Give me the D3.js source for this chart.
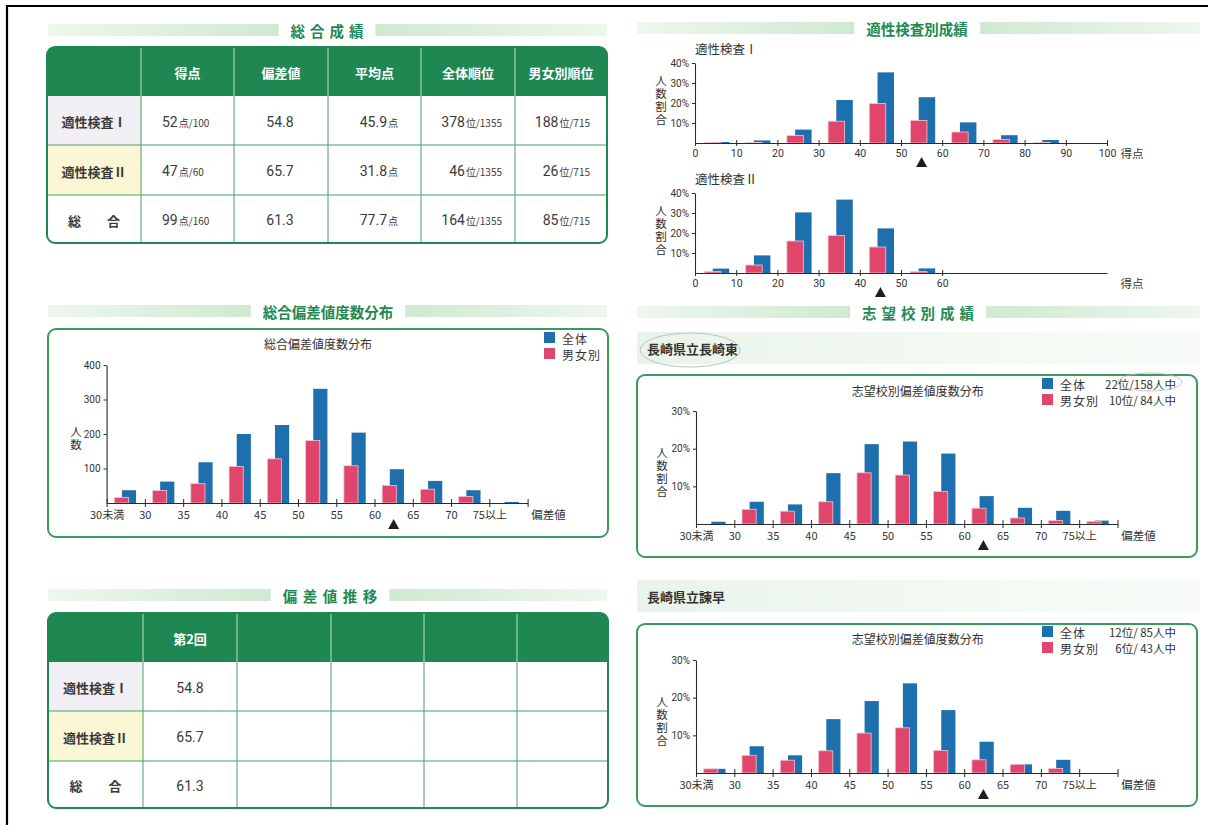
<!DOCTYPE html>
<html><head><meta charset="utf-8">
<script src="https://cdn.jsdelivr.net/npm/d3@7"></script>
<style>html,body{margin:0;padding:0;background:#fff;}svg{display:block}</style>
</head><body><svg id="c" width="1208" height="825"></svg>
<script>
// ---------------- DATA ----------------
const sectionTitles = ["総合成績", "適性検査別成績", "総合偏差値度数分布", "志望校別成績", "偏差値推移"];

const summaryHeaders = ["得点", "偏差値", "平均点", "全体順位", "男女別順位"];
const rowLabels = ["適性検査Ⅰ", "適性検査Ⅱ", "総　　合"];
const summaryValues = [
  [["52", "点/100"], ["54.8", ""], ["45.9", "点"], ["378", "位/1355"], ["188", "位/715"]],
  [["47", "点/60"], ["65.7", ""], ["31.8", "点"], ["46", "位/1355"], ["26", "位/715"]],
  [["99", "点/160"], ["61.3", ""], ["77.7", "点"], ["164", "位/1355"], ["85", "位/715"]]
];

const trendHeaders = ["第2回", "", "", "", ""];
const trendValues = [
  [["54.8", ""], ["", ""], ["", ""], ["", ""], ["", ""]],
  [["65.7", ""], ["", ""], ["", ""], ["", ""], ["", ""]],
  [["61.3", ""], ["", ""], ["", ""], ["", ""], ["", ""]]
];

const legendNames = ["全体", "男女別"];

const test1Label = "適性検査Ⅰ";
const test1Bins = [0, 10, 20, 30, 40, 50, 60, 70, 80, 90];
const test1All = [0.5, 1.3, 6.7, 21.5, 35.3, 22.9, 10.3, 3.9, 1.5, 0];
const test1Gender = [0.2, 0.3, 3.7, 10.9, 19.7, 11.3, 5.5, 1.7, 0.3, 0];
const test1Ticks = [0, 10, 20, 30, 40, 50, 60, 70, 80, 90, 100];
const test1Score = 52;

const test2Label = "適性検査Ⅱ";
const test2Bins = [0, 10, 20, 30, 40, 50];
const test2All = [2.2, 8.8, 30.3, 36.7, 22.3, 2.3];
const test2Gender = [0.7, 4.0, 16.0, 18.7, 13.0, 0.7];
const test2Ticks = [0, 10, 20, 30, 40, 50, 60];
const test2Score = 47;

const pctTicks = [10, 20, 30, 40];
const schoolPctTicks = [10, 20, 30];
const countTicks = [100, 200, 300, 400];

const devCats = ["30未満", "30", "35", "40", "45", "50", "55", "60", "65", "70", "75以上"];
const devAll = [37, 62, 118, 200, 226, 331, 204, 98, 64, 37, 3];
const devGender = [16, 36, 56, 106, 128, 181, 108, 51, 40, 19, 0];
const totalDeviation = 61.3;

const school1Name = "長崎県立長崎東";
const school1Rank = ["22位/158人中", "10位/ 84人中"];
const school1All = [0.6, 5.9, 5.2, 13.5, 21.2, 21.9, 18.7, 7.4, 4.3, 3.5, 0.9];
const school1Gender = [0, 3.9, 3.4, 5.9, 13.6, 13.0, 8.6, 4.2, 1.6, 0.9, 0.7];

const school2Name = "長崎県立諫早";
const school2Rank = ["12位/ 85人中", "6位/ 43人中"];
const school2All = [1.1, 7.1, 4.7, 14.3, 19.1, 23.8, 16.7, 8.3, 2.3, 3.5, 0];
const school2Gender = [1.1, 4.7, 3.4, 5.9, 10.6, 12.0, 6.0, 3.5, 2.3, 1.2, 0];

const chartTitleDev = "総合偏差値度数分布";
const chartTitleSchool = "志望校別偏差値度数分布";

// ---------------- STYLE ----------------
const JP = "'Noto Sans CJK JP','Noto Sans',sans-serif";
const NUM = "'Roboto','Liberation Sans','Noto Sans CJK JP',sans-serif";
const GREEN = "#1f8751";
const LINE_GREEN = "#4c9f69";
const BOX_GREEN = "#3c9a5d";
const BLUE = "#1d6fad";
const RED = "#e0466b";
const INK = "#333";

const svg = d3.select("#c");
const defs = svg.append("defs");

function grad(id, rev) {
  const g = defs.append("linearGradient").attr("id", id).attr("x1", 0).attr("x2", 1).attr("y1", 0).attr("y2", 0);
  g.append("stop").attr("offset", 0).attr("stop-color", "#cde8cf").attr("stop-opacity", rev ? 0.95 : 0.35);
  g.append("stop").attr("offset", 1).attr("stop-color", "#cde8cf").attr("stop-opacity", rev ? 0.35 : 0.95);
}
grad("bandL", false); grad("bandR", true);
const sg = defs.append("linearGradient").attr("id", "bandS").attr("x1", 0).attr("x2", 1);
sg.append("stop").attr("offset", 0).attr("stop-color", "#e6f3e6").attr("stop-opacity", 0.9);
sg.append("stop").attr("offset", 1).attr("stop-color", "#eef7ee").attr("stop-opacity", 0.4);

// page border
svg.append("line").attr("x1", 6).attr("x2", 1208).attr("y1", 6).attr("y2", 6).attr("stroke", "#000").attr("stroke-width", 2.2);
svg.append("line").attr("x1", 7).attr("x2", 7).attr("y1", 5).attr("y2", 825).attr("stroke", "#000").attr("stroke-width", 2.2);

function sectionTitle(text, cx, cy, x0, x1, ls) {
  const t = svg.append("text").attr("x", cx + ls / 2).attr("y", cy).attr("text-anchor", "middle")
    .attr("dominant-baseline", "central").attr("font-family", JP).attr("font-weight", "bold")
    .attr("font-size", 14.5).attr("letter-spacing", ls).attr("fill", "#21894f").text(text);
  const bb = t.node().getBBox();
  svg.append("rect").attr("x", x0).attr("y", cy - 6).attr("width", Math.max(0, bb.x - 12 - x0)).attr("height", 12).attr("fill", "url(#bandL)");
  const rx = bb.x + bb.width - ls + 12;
  svg.append("rect").attr("x", rx).attr("y", cy - 6).attr("width", Math.max(0, x1 - rx)).attr("height", 12).attr("fill", "url(#bandR)");
}

sectionTitle(sectionTitles[0], 327, 30, 48, 607, 5);
sectionTitle(sectionTitles[1], 917, 28, 637, 1200, 0);
sectionTitle(sectionTitles[2], 328, 311, 48, 607, 0);
sectionTitle(sectionTitles[3], 918, 312, 637, 1200, 5);
sectionTitle(sectionTitles[4], 330, 595, 48, 607, 5.5);

// ---------------- TABLES ----------------
let clipN = 0;
function table(cfg) {
  const { cols, rows, headers, labels, values, fills, anchors } = cfg;
  const X0 = cols[0], X1 = cols[cols.length - 1], Y0 = rows[0], Y1 = rows[rows.length - 1];
  const id = "clip" + (clipN++);
  defs.append("clipPath").attr("id", id).append("rect")
    .attr("x", X0).attr("y", Y0).attr("width", X1 - X0).attr("height", Y1 - Y0).attr("rx", 8);
  const g = svg.append("g");
  const gc = g.append("g").attr("clip-path", `url(#${id})`);
  gc.append("rect").attr("x", X0).attr("y", Y0).attr("width", X1 - X0).attr("height", Y1 - Y0).attr("fill", "#fff");
  gc.append("rect").attr("x", X0).attr("y", Y0).attr("width", X1 - X0).attr("height", rows[1] - Y0).attr("fill", GREEN);
  fills.forEach((f, i) => {
    gc.append("rect").attr("x", X0).attr("y", rows[i + 1]).attr("width", cols[1] - X0)
      .attr("height", rows[i + 2] - rows[i + 1]).attr("fill", f);
  });
  cols.slice(1, -1).forEach(x => {
    gc.append("line").attr("x1", x).attr("x2", x).attr("y1", Y0).attr("y2", rows[1]).attr("stroke", "#bfe0cb").attr("stroke-width", 1);
    gc.append("line").attr("x1", x).attr("x2", x).attr("y1", rows[1]).attr("y2", Y1).attr("stroke", LINE_GREEN).attr("stroke-width", 1);
  });
  rows.slice(2, -1).forEach(y => {
    gc.append("line").attr("x1", X0).attr("x2", X1).attr("y1", y).attr("y2", y).attr("stroke", LINE_GREEN).attr("stroke-width", 1);
  });
  g.append("rect").attr("x", X0).attr("y", Y0).attr("width", X1 - X0).attr("height", Y1 - Y0).attr("rx", 8)
    .attr("fill", "none").attr("stroke", GREEN).attr("stroke-width", 2);
  headers.forEach((h, i) => {
    g.append("text").attr("x", (cols[i + 1] + cols[i + 2]) / 2).attr("y", (rows[0] + rows[1]) / 2 + 1)
      .attr("text-anchor", "middle").attr("dominant-baseline", "central")
      .attr("font-family", JP).attr("font-weight", "bold").attr("font-size", 13).attr("fill", "#fff").text(h);
  });
  labels.forEach((l, r) => {
    g.append("text").attr("x", (cols[0] + cols[1]) / 2).attr("y", (rows[r + 1] + rows[r + 2]) / 2 + 1)
      .attr("text-anchor", "middle").attr("dominant-baseline", "central")
      .attr("font-family", JP).attr("font-weight", "bold").attr("font-size", 13).attr("fill", "#3a3a3a").text(l);
  });
  values.forEach((row, r) => {
    row.forEach((v, c) => {
      if (!v[0]) return;
      const a = anchors[c];
      const xa = a.a === "start" ? cols[c + 1] + a.dx : a.a === "end" ? cols[c + 2] - a.dx : (cols[c + 1] + cols[c + 2]) / 2 + a.dx;
      const t = g.append("text").attr("x", xa).attr("y", (rows[r + 1] + rows[r + 2]) / 2 + 1)
        .attr("text-anchor", a.a).attr("dominant-baseline", "central").attr("fill", "#3a3a3a");
      t.append("tspan").attr("font-family", NUM).attr("font-size", 14).text(v[0]);
      if (v[1]) t.append("tspan").attr("font-family", JP).attr("font-size", 10).attr("dx", 1).text(v[1]);
    });
  });
}

table({
  cols: [47, 141, 234, 328, 421, 515, 607],
  rows: [47, 96, 145, 195, 243],
  headers: summaryHeaders, labels: rowLabels, values: summaryValues,
  fills: ["#f2eff4", "#fbf7d4", "#ffffff"],
  anchors: [{ a: "start", dx: 21 }, { a: "middle", dx: -1 }, { a: "end", dx: 23 }, { a: "end", dx: 13 }, { a: "end", dx: 17 }]
});
table({
  cols: [48, 143, 237, 331, 424, 517, 608],
  rows: [613, 662, 711, 761, 808],
  headers: trendHeaders, labels: rowLabels, values: trendValues,
  fills: ["#f2eff4", "#fbf7d4", "#ffffff"],
  anchors: [{ a: "middle", dx: 0 }, { a: "middle", dx: 0 }, { a: "middle", dx: 0 }, { a: "middle", dx: 0 }, { a: "middle", dx: 0 }]
});

// ---------------- CHART HELPERS ----------------
function vertLabel(text, x, yc) {
  svg.append("text").attr("x", x).attr("y", yc)
    .attr("writing-mode", "vertical-rl").attr("text-anchor", "middle")
    .attr("font-family", JP).attr("font-size", 11.5).attr("letter-spacing", 1.5).attr("fill", INK).text(text);
}

function styleAxis(ax) {
  ax.select(".domain").attr("stroke", "#2a2a2a").attr("stroke-width", 1.1);
  ax.selectAll(".tick line").attr("stroke", "#2a2a2a").attr("stroke-width", 1);
  ax.selectAll(".tick text").attr("font-family", NUM).attr("font-size", 10.5).attr("fill", INK);
}

function triangle(cx, cy) {
  svg.append("path").attr("d", `M${cx},${cy - 5} L${cx + 5.5},${cy + 5} L${cx - 5.5},${cy + 5} Z`).attr("fill", "#1e1e1e");
}

function bars(g, x, y, starts, width, all, gender, offR, offB, w) {
  g.selectAll(".b").data(all).join("rect").attr("class", "b")
    .attr("x", (d, i) => x(starts[i] + offB * width)).attr("width", (d, i) => x(starts[i] + (offB + w) * width) - x(starts[i] + offB * width))
    .attr("y", d => y(d)).attr("height", d => y(0) - y(d)).attr("fill", BLUE);
  g.selectAll(".r").data(gender).join("rect").attr("class", "r")
    .attr("x", (d, i) => x(starts[i] + offR * width)).attr("width", (d, i) => x(starts[i] + (offR + w) * width) - x(starts[i] + offR * width))
    .attr("y", d => y(d)).attr("height", d => y(0) - y(d)).attr("fill", RED)
    .attr("stroke", d => d > 0 ? "#f6c3cf" : "none").attr("stroke-width", 0.8);
}

// ---------------- TEST CHARTS ----------------
function testChart(label, bins, all, gender, ticks, score, yBottom) {
  const x = d3.scaleLinear().domain([0, 100]).range([695, 1107]);
  const y = d3.scaleLinear().domain([0, 40]).range([yBottom, yBottom - 80]);
  svg.append("text").attr("x", 695).attr("y", yBottom - 95).attr("dominant-baseline", "central")
    .attr("font-family", JP).attr("font-size", 12.5).attr("fill", INK).text(label);
  vertLabel("人数割合", 661, yBottom - 42);
  const g = svg.append("g");
  bars(g, x, y, bins, 10, all, gender, 0.23, 0.43, 0.4);
  const ax = svg.append("g").attr("transform", `translate(0,${yBottom})`)
    .call(d3.axisBottom(x).tickValues(ticks).tickFormat(d3.format("d")).tickSizeInner(3).tickSizeOuter(0).tickPadding(4));
  ax.selectAll(".tick line").attr("y1", -3);
  styleAxis(ax);
  const ay = svg.append("g").attr("transform", "translate(695,0)")
    .call(d3.axisLeft(y).tickValues(pctTicks).tickFormat(d => d + "%").tickSizeInner(3).tickSizeOuter(0).tickPadding(3));
  styleAxis(ay);
  ay.selectAll(".tick text").attr("font-size", 10);
  svg.append("text").attr("x", 1132).attr("y", yBottom + 10).attr("text-anchor", "middle").attr("dominant-baseline", "central")
    .attr("font-family", JP).attr("font-size", 11.5).attr("fill", INK).text("得点");
  const b = Math.floor(score / 10) * 10;
  triangle(x(b + 5), yBottom + 19);
}
testChart(test1Label, test1Bins, test1All, test1Gender, test1Ticks, test1Score, 143);
testChart(test2Label, test2Bins, test2All, test2Gender, test2Ticks, test2Score, 273);

// ---------------- DEVIATION CHARTS ----------------
function devIndex(v) { return v < 30 ? 0 : Math.min(10, Math.floor((v - 30) / 5) + 1); }

function devChart(cfg) {
  const { box, x0, x1, yBottom, yTop, maxV, ticks, fmt, all, gender, title, titleY, legendY, legendX, ranks, vlabel, vlabelX } = cfg;
  svg.append("rect").attr("x", box[0]).attr("y", box[1]).attr("width", box[2]).attr("height", box[3]).attr("rx", 8)
    .attr("fill", "#fff").attr("stroke", BOX_GREEN).attr("stroke-width", 2);
  svg.append("text").attr("x", (x0 + x1) / 2 + (box[0] > 600 ? 11 : 1)).attr("y", titleY).attr("text-anchor", "middle").attr("dominant-baseline", "central")
    .attr("font-family", JP).attr("font-size", 12).attr("fill", INK).text(title);
  legendNames.forEach((n, i) => {
    const ly = legendY + i * 16;
    svg.append("rect").attr("x", legendX).attr("y", ly - 6).attr("width", 11).attr("height", 11).attr("fill", i ? RED : BLUE);
    svg.append("text").attr("x", legendX + 18).attr("y", ly).attr("dominant-baseline", "central")
      .attr("font-family", JP).attr("font-size", 12).attr("fill", INK).attr("letter-spacing", 1).text(n);
    if (ranks) svg.append("text").attr("x", 1176).attr("y", ly).attr("text-anchor", "end").attr("dominant-baseline", "central")
      .attr("font-family", JP).attr("font-size", 11.5).attr("fill", INK).text(ranks[i]);
  });
  const x = d3.scaleLinear().domain([0, devCats.length]).range([x0, x1]);
  const y = d3.scaleLinear().domain([0, maxV]).range([yBottom, yTop]);
  const g = svg.append("g");
  bars(g, x, y, d3.range(devCats.length), 1, all, gender, 0.2, 0.4, 0.37);
  const ax = svg.append("g").attr("transform", `translate(0,${yBottom})`)
    .call(d3.axisBottom(x).tickValues(d3.range(devCats.length + 1)).tickFormat(i => devCats[i] || "")
      .tickSizeInner(4).tickSizeOuter(0).tickPadding(4));
  ax.selectAll(".tick line").attr("y1", -4);
  styleAxis(ax);
  ax.selectAll(".tick text").attr("font-family", JP).attr("font-size", 11);
  const ay = svg.append("g").attr("transform", `translate(${x0},0)`)
    .call(d3.axisLeft(y).tickValues(ticks).tickFormat(fmt).tickSizeInner(3).tickSizeOuter(0).tickPadding(3));
  styleAxis(ay);
  ay.selectAll(".tick text").attr("font-size", 10);
  vertLabel(vlabel, vlabelX, (yBottom + yTop) / 2 + 5);
  svg.append("text").attr("x", x1 + 21).attr("y", yBottom + 11).attr("text-anchor", "middle").attr("dominant-baseline", "central")
    .attr("font-family", JP).attr("font-size", 11.5).attr("fill", INK).text("偏差値");
  triangle(x(devIndex(totalDeviation) + 0.5), yBottom + 21);
}

devChart({
  box: [48, 329, 560, 208], x0: 106.6, x1: 527.6, yBottom: 503, yTop: 365, maxV: 400, ticks: countTicks, fmt: d3.format("d"),
  all: devAll, gender: devGender, title: chartTitleDev, titleY: 343, legendY: 338, legendX: 544, ranks: null,
  vlabel: "人数", vlabelX: 76
});

function schoolLabel(name, y) {
  svg.append("rect").attr("x", 637).attr("y", y - 16).attr("width", 563).attr("height", 32).attr("fill", "url(#bandS)");
  svg.append("text").attr("x", 647).attr("y", y).attr("dominant-baseline", "central")
    .attr("font-family", JP).attr("font-weight", "bold").attr("font-size", 13).attr("fill", "#333").text(name);
}
schoolLabel(school1Name, 348);
schoolLabel(school2Name, 596);

devChart({
  box: [637, 375, 560, 182], x0: 696, x1: 1117.5, yBottom: 524, yTop: 411, maxV: 30, ticks: schoolPctTicks, fmt: d => d + "%",
  all: school1All, gender: school1Gender, title: chartTitleSchool, titleY: 390, legendY: 384, legendX: 1042, ranks: school1Rank,
  vlabel: "人数割合", vlabelX: 662
});
devChart({
  box: [637, 624, 560, 182], x0: 696, x1: 1117.5, yBottom: 773, yTop: 660, maxV: 30, ticks: schoolPctTicks, fmt: d => d + "%",
  all: school2All, gender: school2Gender, title: chartTitleSchool, titleY: 638, legendY: 632, legendX: 1042, ranks: school2Rank,
  vlabel: "人数割合", vlabelX: 662
});

svg.append("ellipse").attr("cx", 690).attr("cy", 350).attr("rx", 50).attr("ry", 17).attr("fill", "none").attr("stroke", "#a9b8ad").attr("stroke-width", 0.8);
svg.append("ellipse").attr("cx", 1150).attr("cy", 382).attr("rx", 32).attr("ry", 9).attr("fill", "none").attr("stroke", "#b5bdb8").attr("stroke-width", 0.8);
</script></body></html>
